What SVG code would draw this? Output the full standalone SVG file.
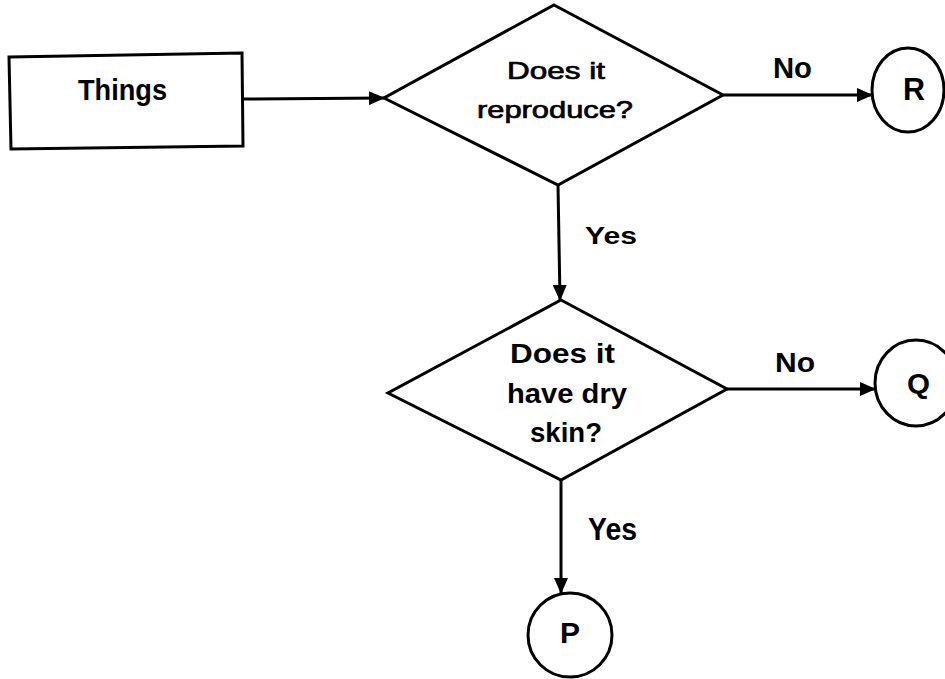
<svg xmlns="http://www.w3.org/2000/svg" width="945" height="679" viewBox="0 0 945 679">
<style>
.s{fill:#fff;stroke:#000;stroke-width:3;stroke-linejoin:miter}
.c{fill:none;stroke:#000;stroke-width:3}
text{font-family:"Liberation Sans",Arial,sans-serif;fill:#000;font-weight:bold}
.n{font-weight:normal;stroke:#000;stroke-width:0.7}
</style>
<defs>
<marker id="a" markerWidth="16" markerHeight="14" refX="15" refY="7" orient="auto" markerUnits="userSpaceOnUse">
<path d="M0,0 L16,7 L0,14 Z" fill="#000"/>
</marker>
</defs>
<rect width="945" height="679" fill="#fff"/>
<g id="connectors">
<line class="c" x1="243" y1="99" x2="384" y2="98" marker-end="url(#a)"/>
<line class="c" x1="723" y1="95" x2="872" y2="95" marker-end="url(#a)"/>
<line class="c" x1="558" y1="185" x2="560" y2="300" marker-end="url(#a)"/>
<line class="c" x1="727" y1="389" x2="875" y2="389" marker-end="url(#a)"/>
<line class="c" x1="561" y1="480" x2="561" y2="593" marker-end="url(#a)"/>
<text x="773" y="78" font-size="29" textLength="39" lengthAdjust="spacingAndGlyphs">No</text>
<text x="585" y="244" font-size="24" textLength="52" lengthAdjust="spacingAndGlyphs">Yes</text>
<text x="775" y="372" font-size="28" textLength="40" lengthAdjust="spacingAndGlyphs">No</text>
<text x="588" y="540" font-size="31" textLength="49" lengthAdjust="spacingAndGlyphs">Yes</text>
</g>
<g id="things">
<polygon class="s" points="9,57 242,53 243,146 11,149"/>
<text x="78" y="100" font-size="30" textLength="89" lengthAdjust="spacingAndGlyphs">Things</text>
</g>
<g id="d1">
<polygon class="s" points="554,5 723,95 558,185 384,98"/>
<text class="n" x="507" y="79" font-size="24" textLength="98" lengthAdjust="spacingAndGlyphs">Does it</text>
<text class="n" x="477" y="118" font-size="24" textLength="156" lengthAdjust="spacingAndGlyphs">reproduce?</text>
</g>
<g id="d2">
<polygon class="s" points="561,300 727,389 561,480 388,393"/>
<text x="510" y="363" font-size="27" textLength="105" lengthAdjust="spacingAndGlyphs">Does it</text>
<text x="507" y="403" font-size="27" textLength="120" lengthAdjust="spacingAndGlyphs">have dry</text>
<text x="530" y="442" font-size="27" textLength="72" lengthAdjust="spacingAndGlyphs">skin?</text>
</g>
<g id="R">
<ellipse class="s" cx="908" cy="90" rx="36" ry="42"/>
<text x="903" y="100" font-size="32" textLength="22" lengthAdjust="spacingAndGlyphs">R</text>
</g>
<g id="Q">
<ellipse class="s" cx="916" cy="383" rx="41" ry="43"/>
<text x="907" y="393" font-size="28" textLength="23" lengthAdjust="spacingAndGlyphs">Q</text>
</g>
<g id="P">
<circle class="s" cx="570" cy="635" r="42"/>
<text x="560" y="643" font-size="29" textLength="20" lengthAdjust="spacingAndGlyphs">P</text>
</g>
</svg>
